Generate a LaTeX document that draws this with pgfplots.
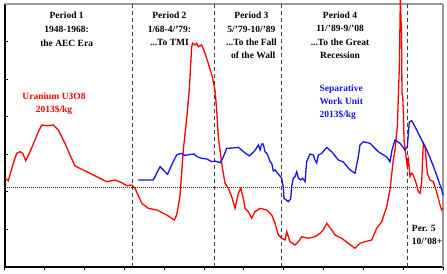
\documentclass[border=0pt]{standalone}
\usepackage{fontspec}
\setmainfont{Liberation Serif}
\usepackage{pgfplots}
\pgfplotsset{compat=1.18}

\definecolor{uranred}{RGB}{255,0,0}
\definecolor{swublue}{RGB}{20,20,235}

\tikzset{lbl/.style={font=\fontsize{9.5}{12}\selectfont\bfseries}}

\begin{document}
\begin{tikzpicture}
\begin{axis}[
  scale only axis,
  width=438pt, height=263pt,
  xmin=1948, xmax=2014,
  ymin=0, ymax=7,
  axis x line*=bottom,
  axis y line*=left,
  axis line style={black, line width=1.2pt},
  xtick={1948,1954,...,2014},
  ytick={0,1,...,7},
  xticklabels={}, yticklabels={},
  tick align=inside,
  major tick length=3pt,
  xtick style={black, line width=1pt, yshift=-3pt},
  ytick style={black, line width=1pt},
  clip=false,
]

% frame on the top and right sides
\draw[gray!80, line width=2pt] (rel axis cs:0,1) -- (rel axis cs:1,1);
\draw[gray!80, line width=1.4pt] (rel axis cs:1,0) -- (rel axis cs:1,1);

% reference level
\draw[black!80, line width=0.6pt, dash pattern=on 0.8pt off 1.2pt]
  (axis cs:1948,2.12) -- (axis cs:2014,2.12);

% period boundaries
\foreach \yr in {1967.14,1979.57,1989.72,2008.69}{
  \edef\tmp{\noexpand\draw[black!75, line width=0.9pt, dash pattern=on 4pt off 3pt]
    (axis cs:\yr,0) -- (axis cs:\yr,7);}\tmp
}

% uranium U3O8, 2013$/kg
\addplot[uranred, line width=1.3pt] coordinates {
(1948.00,2.361) (1948.50,2.297) (1949.25,2.760) (1949.76,3.026) (1950.26,3.069)
(1950.67,3.026) (1951.12,2.829) (1951.77,3.069) (1952.52,3.380) (1953.02,3.601)
(1953.53,3.780) (1954.28,3.761) (1955.28,3.780) (1956.03,3.646) (1957.04,3.292)
(1957.79,2.981) (1958.55,2.688) (1960.31,2.537) (1961.82,2.404) (1963.32,2.270)
(1964.58,2.316) (1965.59,2.244) (1966.34,2.164) (1967.09,2.183) (1967.59,2.095)
(1968.60,1.696) (1969.59,1.562) (1970.86,1.517) (1972.37,1.384) (1973.51,1.251)
(1973.87,1.384) (1974.37,1.890) (1974.87,3.114) (1975.38,3.958) (1975.77,4.711)
(1976.13,5.864) (1976.28,5.954) (1976.63,5.909) (1976.89,5.954) (1977.13,5.864)
(1977.64,5.909) (1978.14,5.688) (1978.63,5.422) (1979.24,5.065) (1979.64,4.711)
(1979.90,4.179) (1980.14,3.468) (1980.65,2.760) (1981.15,2.228) (1981.65,2.095)
(1982.16,1.871) (1982.66,1.562) (1983.16,1.962) (1983.52,2.095) (1983.91,1.829)
(1984.17,1.562) (1984.66,1.472) (1985.18,1.296) (1985.67,1.472) (1986.43,1.562)
(1987.44,1.517) (1988.19,1.384) (1988.69,1.163) (1989.18,0.852) (1989.70,0.764)
(1990.19,0.719) (1990.45,0.940) (1990.95,0.673) (1991.70,0.586) (1992.20,0.673)
(1992.71,0.806) (1993.70,0.764) (1994.71,0.806) (1995.47,0.897) (1995.96,0.985)
(1996.48,1.163) (1997.23,0.985) (1997.73,0.852) (1998.74,0.764) (1999.73,0.631)
(2000.74,0.498) (2001.49,0.631) (2002.25,0.673) (2003.26,0.719) (2004.01,1.030)
(2004.76,1.206) (2005.52,1.605) (2006.01,2.050) (2006.51,2.848) (2006.77,3.114)
(2007.12,3.734) (2007.42,5.331) (2007.57,7.107) (2007.75,6.220) (2007.82,4.623)
(2007.93,4.533) (2008.02,4.179) (2008.13,3.380) (2008.43,2.936) (2008.62,2.670)
(2008.80,2.848) (2009.03,2.404) (2009.28,2.494) (2009.52,2.449) (2010.04,2.183)
(2010.28,2.004) (2010.54,1.962) (2010.79,2.270) (2011.03,3.292) (2011.29,3.202)
(2011.64,2.494) (2012.04,2.316) (2012.54,2.270) (2013.05,1.996) (2013.55,1.650)
(2013.80,1.517) (2014.00,1.570)
};

% separative work unit, 2013$/kg
\addplot[swublue, line width=1.3pt] coordinates {
(1968.09,2.316) (1970.35,2.316) (1971.36,2.670) (1971.61,2.627) (1972.49,2.467)
(1973.32,2.795) (1973.87,2.981) (1974.52,3.026) (1975.12,2.968) (1975.88,2.994)
(1976.48,3.008) (1976.89,2.941) (1977.64,2.893) (1978.39,2.875) (1979.15,2.803)
(1979.64,2.821) (1980.40,2.776) (1980.81,2.893) (1981.41,3.159) (1982.40,3.167)
(1983.16,3.186) (1983.91,3.074) (1984.81,2.954) (1985.67,3.101) (1986.17,3.247)
(1986.43,3.114) (1986.68,3.274) (1986.92,3.274) (1987.18,3.069) (1987.44,3.026)
(1987.68,2.936) (1987.93,2.803) (1988.19,2.760) (1988.43,2.555) (1988.69,2.582)
(1989.18,2.475) (1989.70,2.361) (1989.94,2.103) (1990.04,1.829) (1990.69,1.738)
(1991.05,1.810) (1991.20,2.137) (1991.44,2.361) (1991.70,2.404) (1991.96,2.537)
(1992.20,2.369) (1992.56,2.316) (1992.86,2.361) (1993.21,2.270) (1993.46,2.803)
(1993.96,3.008) (1994.46,2.981) (1994.71,2.848) (1994.97,2.768) (1995.21,2.981)
(1995.72,3.026) (1996.48,3.181) (1997.23,3.069) (1998.22,2.848) (1998.98,2.795)
(1999.99,2.582) (2000.74,2.494) (2001.24,2.936) (2001.49,3.247) (2001.99,3.335)
(2003.00,3.292) (2004.25,3.069) (2005.52,2.928) (2006.01,2.803) (2006.32,3.114)
(2006.77,3.380) (2007.52,3.292) (2008.27,3.114) (2008.62,3.194) (2008.92,3.859)
(2009.28,3.894) (2009.78,3.734) (2010.54,3.468) (2011.55,3.114) (2012.54,2.688)
(2013.30,2.316) (2013.81,2.050) (2014.00,1.916)
};

% period captions
\node[lbl, anchor=base] at (axis cs:1957.29,6.601) {Period 1};
\node[lbl, anchor=base] at (axis cs:1957.29,6.228) {1948-1968:};
\node[lbl, anchor=base] at (axis cs:1957.29,5.869) {the AEC Era};

\node[lbl, anchor=base] at (axis cs:1972.78,6.601) {Period 2};
\node[lbl, anchor=base] at (axis cs:1972.78,6.241) {1/68-4/'79:};
\node[lbl, anchor=base] at (axis cs:1972.78,5.883) {...To TMI};

\node[lbl, anchor=base] at (axis cs:1985.14,6.601) {Period 3};
\node[lbl, anchor=base] at (axis cs:1985.14,6.241) {5/'79-10/'89};
\node[lbl, anchor=base] at (axis cs:1985.14,5.883) {...To the Fall};
\node[lbl, anchor=base] at (axis cs:1985.40,5.537) {of the Wall};

\node[lbl, anchor=base] at (axis cs:1998.48,6.614) {Period 4};
\node[lbl, anchor=base] at (axis cs:1998.48,6.268) {11/'89-9/'08};
\node[lbl, anchor=base] at (axis cs:1998.48,5.896) {...To the Great};
\node[lbl, anchor=base] at (axis cs:1998.48,5.550) {Recession};

\node[lbl, anchor=base west, inner xsep=0pt] at (axis cs:2009.29,0.932) {Per. 5};
\node[lbl, anchor=base west, inner xsep=0pt] at (axis cs:2009.29,0.586) {10/'08+};

% series captions
\node[lbl, anchor=base, text=uranred] at (axis cs:1955.38,4.445) {Uranium U3O8};
\node[lbl, anchor=base, text=uranred] at (axis cs:1955.38,4.112) {2013\$/kg};

\node[lbl, anchor=base west, inner xsep=0pt, text=swublue] at (axis cs:1995.36,4.658) {Separative};
\node[lbl, anchor=base west, inner xsep=0pt, text=swublue] at (axis cs:1995.36,4.326) {Work Unit};
\node[lbl, anchor=base west, inner xsep=0pt, text=swublue] at (axis cs:1995.36,3.992) {2013\$/kg};

\coordinate (bbsw) at (rel axis cs:-0.01142,-0.0266);
\coordinate (bbne) at (rel axis cs:1.00913,1.0152);
\end{axis}
\pgfresetboundingbox
\path (bbsw) rectangle (bbne);
\end{tikzpicture}
\end{document}
